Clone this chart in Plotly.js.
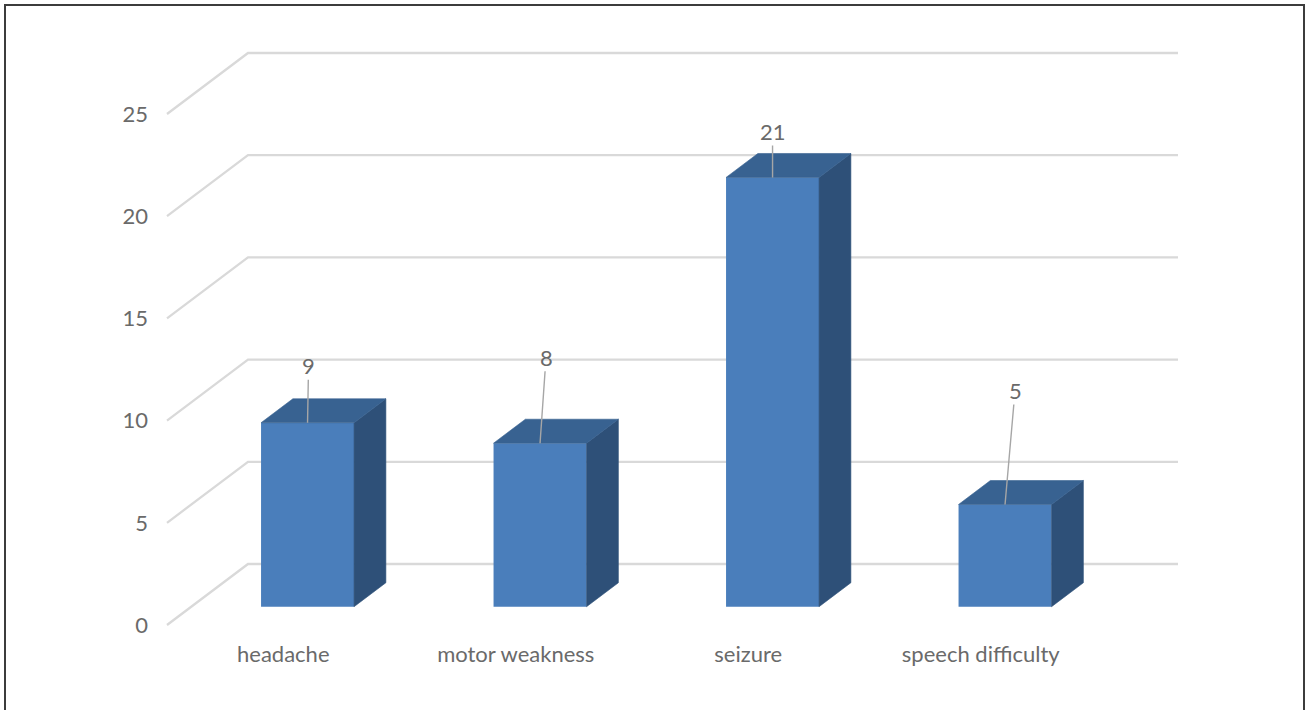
<!DOCTYPE html>
<html>
<head>
<meta charset="utf-8">
<script src="https://cdn.plot.ly/plotly-3.0.1.min.js"></script>
<style>
  html, body { margin: 0; padding: 0; background: #ffffff; }
  #chart { width: 1307px; height: 710px; }
</style>
</head>
<body>
<div id="chart"></div>
<script>
// Symptom counts
const categories = ['headache', 'motor weakness', 'seizure', 'speech difficulty'];
const counts = [9, 8, 21, 5];
const yTicks = [0, 5, 10, 15, 20, 25];

// Pixel offsets of each data label relative to its bar's top edge
const labelOffsets = [[1, -57], [6, -86], [0, -46], [10, -114]];

// ---- oblique 3D projection set-up ----
const W = 1307, H = 710;
const ORIGIN_X = 167, ORIGIN_Y = 625;     // front-left corner of the floor (px)
const SX = 232.5, SY = 20.44;             // px per category, px per unit value
const WALL_DX_PX = 81, WALL_DY_PX = 61;   // depth of the back wall (px)
const DX = WALL_DX_PX / SX, DY = WALL_DY_PX / SY;
const Z_FRONT = 0.30, Z_BACK = 0.693;     // bar front/back planes as a fraction of the depth
const BAR_W = 0.4;
const PAD = 8;
const Y_MAX = 25;

const PL = ORIGIN_X - PAD;
const PR = ORIGIN_X + categories.length * SX + WALL_DX_PX + PAD;
const PT = ORIGIN_Y - (Y_MAX * SY + WALL_DY_PX) - PAD;
const PB = ORIGIN_Y + PAD;
const plotW = PR - PL, plotH = PB - PT;

const xRange = [-0.5 - PAD / SX, -0.5 + (PR - ORIGIN_X) / SX];
const yRange = [-PAD / SY, (ORIGIN_Y - PT) / SY];

// project (category position, value, depth) to axis coordinates
function P(x, v, z) { return [x + z * DX, v + z * DY]; }

const FRONT = '#4a7ebb', SIDE = '#2e5078', TOP = '#386291';
const GRID = '#d9d9d9', TEXT = '#6a6a6a';
const FONT = 'Lato, "Open Sans", sans-serif';

// gridlines: diagonal from front-left to back-left, then along the back wall
const shapes = yTicks.map(function (t) {
  const a = P(-0.5, t, 0), b = P(-0.5, t, 1), c = P(categories.length - 0.5, t, 1);
  return {
    type: 'path', xref: 'x', yref: 'y', layer: 'below',
    path: 'M' + a[0] + ',' + a[1] + ' L' + b[0] + ',' + b[1] + ' L' + c[0] + ',' + c[1],
    line: { color: GRID, width: 2.3 }
  };
});

// outer chart border
function px2paperX(px) { return (px - PL) / plotW; }
function px2paperY(py) { return (PB - py) / plotH; }
shapes.push({
  type: 'rect', xref: 'paper', yref: 'paper', layer: 'above',
  x0: px2paperX(5), x1: px2paperX(1304), y0: px2paperY(716), y1: px2paperY(5),
  line: { color: '#3c3c3c', width: 2 }, fillcolor: 'rgba(0,0,0,0)'
});

const traces = [];

// front faces of the bars
traces.push({
  type: 'bar',
  x: categories.map(function (_, i) { return i + Z_FRONT * DX; }),
  y: counts,
  base: counts.map(function () { return Z_FRONT * DY; }),
  width: BAR_W,
  marker: { color: FRONT, line: { width: 0 } },
  hoverinfo: 'skip',
  showlegend: false
});

// right side and top faces
counts.forEach(function (v, i) {
  const l = i - BAR_W / 2, r = i + BAR_W / 2;
  const side = [P(r, 0, Z_FRONT), P(r, 0, Z_BACK), P(r, v, Z_BACK), P(r, v, Z_FRONT)];
  const top = [P(l, v, Z_FRONT), P(r, v, Z_FRONT), P(r, v, Z_BACK), P(l, v, Z_BACK)];
  [[side, SIDE], [top, TOP]].forEach(function (f) {
    const pts = f[0].concat([f[0][0]]);
    traces.push({
      type: 'scatter', mode: 'lines', fill: 'toself',
      x: pts.map(function (p) { return p[0]; }),
      y: pts.map(function (p) { return p[1]; }),
      fillcolor: f[1], line: { color: f[1], width: 0.6 },
      hoverinfo: 'skip', showlegend: false
    });
  });
});

// data labels with leader lines
const annotations = counts.map(function (v, i) {
  const p = P(i, v, Z_FRONT);
  return {
    x: p[0], y: p[1], xref: 'x', yref: 'y',
    text: String(v), showarrow: true, arrowhead: 0, arrowwidth: 1.4,
    arrowcolor: '#a6a6a6', ax: labelOffsets[i][0], ay: labelOffsets[i][1],
    standoff: 0, borderpad: 0,
    font: { family: FONT, size: 22, color: TEXT }
  };
});

const layout = {
  width: W, height: H,
  margin: { l: PL, r: W - PR, t: PT, b: H - PB, pad: 0 },
  paper_bgcolor: '#ffffff', plot_bgcolor: 'rgba(0,0,0,0)',
  showlegend: false,
  xaxis: {
    range: xRange, showgrid: false, zeroline: false, showline: false,
    tickvals: categories.map(function (_, i) { return i; }),
    ticktext: categories, ticks: '', ticklabelstandoff: 6,
    tickfont: { family: FONT, size: 22, color: TEXT }, fixedrange: true
  },
  yaxis: {
    range: yRange, showgrid: false, zeroline: false, showline: false,
    tickvals: yTicks, ticks: '', ticklabelstandoff: 10,
    tickfont: { family: FONT, size: 22, color: TEXT }, fixedrange: true
  },
  shapes: shapes,
  annotations: annotations
};

Plotly.newPlot('chart', traces, layout, { displayModeBar: false, staticPlot: true });
</script>
</body>
</html>
